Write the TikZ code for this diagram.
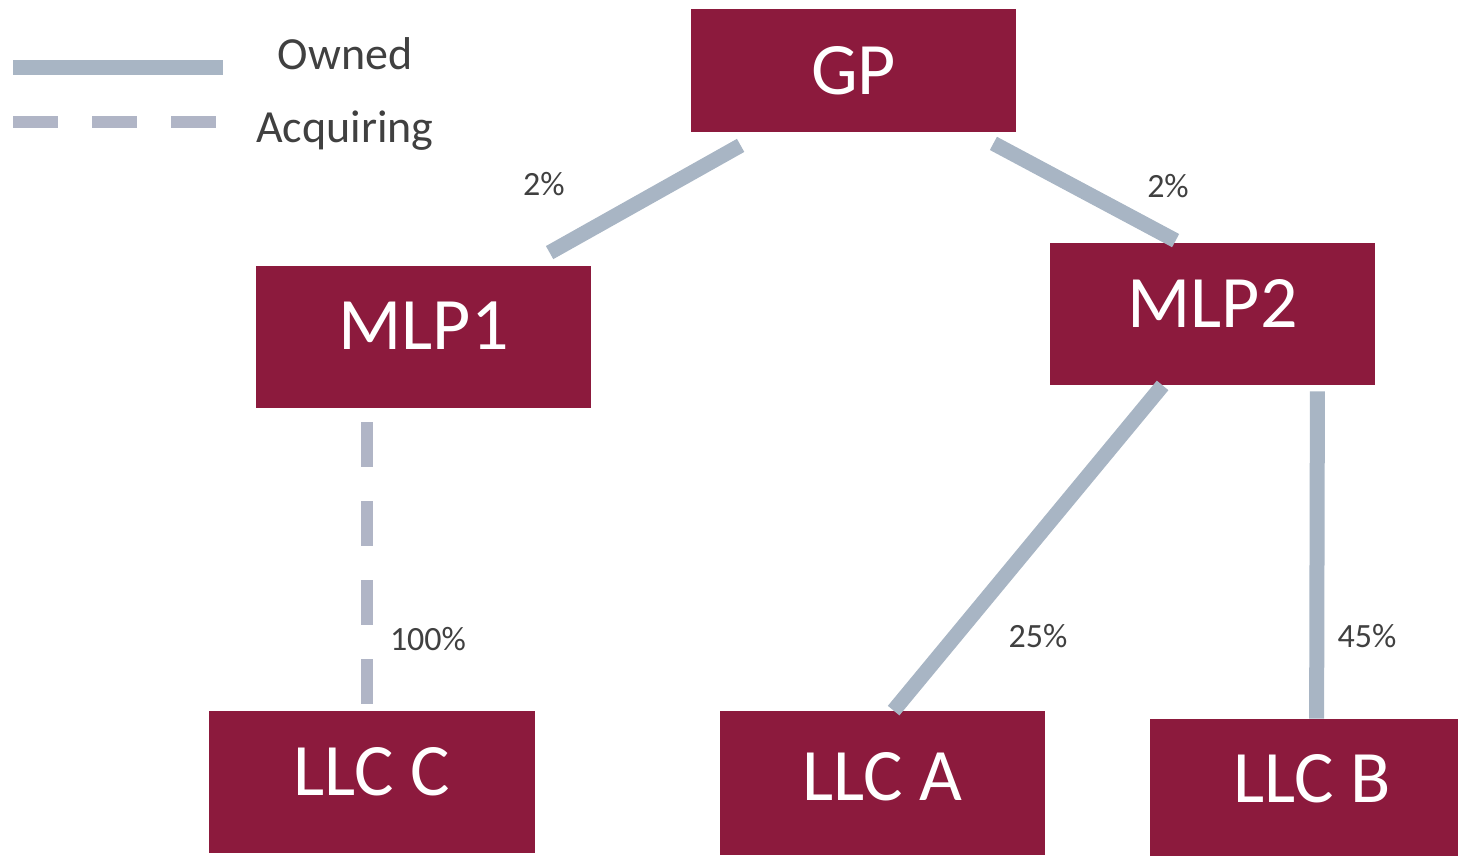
\documentclass[tikz,border=0pt]{standalone}
\usepackage{fontspec}
\setmainfont{Carlito}
\usetikzlibrary{positioning}
\definecolor{boxred}{HTML}{8C1A3D}
\definecolor{ownline}{HTML}{A8B5C4}
\definecolor{acqline}{HTML}{B0B5C6}
\definecolor{labelgray}{HTML}{404040}

\begin{document}
\begin{tikzpicture}[x=.5pt,y=-.5pt,
  entity/.style={fill=boxred,text=white,font=\fontsize{37}{40}\selectfont,inner sep=0pt,
    text depth=11pt,minimum height=71pt},
  owned/.style={draw=ownline,line width=7.5pt},
  acquiring/.style={draw=acqline,line width=6pt,dash pattern=on 22.5pt off 17pt},
  pct/.style={text=labelgray,font=\fontsize{17}{20}\selectfont,anchor=base},
  legend/.style={text=labelgray,font=\fontsize{23}{27}\selectfont,anchor=base}]
  \path[use as bounding box] (0,0) rectangle (1459,856);

  % entities
  \node[entity,minimum width=162.5pt,minimum height=61.5pt,text depth=0pt] (gp) at (853.5,70.5) {GP};
  \node[entity,minimum width=167.5pt] (mlp1) at (423.5,337) {MLP1};
  \node[entity,minimum width=162.5pt] (mlp2) at (1212.5,314) {MLP2};
  \node[entity,minimum width=163pt] (llcc) at (372,782) {LLC C};
  \node[entity,minimum width=162.5pt,minimum height=72pt,text depth=7pt] (llca) at (882.5,783) {LLC A};
  \node[entity,minimum width=154pt,minimum height=68.5pt,text depth=9pt] (llcb) at (1304,787.5) {\hspace{8pt}LLC B};

  % ownership lines
  \draw[owned] ([shift={(50,13)}]gp.south west) -- ([shift={(294,-13)}]mlp1.north west);
  \draw[owned] ([shift={(-23,11)}]gp.south east) -- ([shift={(126,-2)}]mlp2.north west);
  \draw[owned] ([shift={(113,0)}]mlp2.south west) -- ([shift={(174,0)}]llca.north west);
  \draw[owned] ([shift={(-58,6)}]mlp2.south east) -- ([shift={(167,0)}]llcb.north west);
  \draw[acquiring] ([shift={(111,14)}]mlp1.south west) -- ([shift={(158,-6)}]llcc.north west);

  \node[pct] (pgp1) at (544,195) {2\%};
  \node[pct] (pgp2) at (1168,197) {2\%};
  \node[pct] (pllcc) at (428,650) {100\%};
  \node[pct] (pllca) at (1038,647) {25\%};
  \node[pct] (pllcb) at (1367,647) {45\%};

  % legend
  \draw[owned] (13,68) -- (223,68);
  \draw[acquiring] (13,122) -- (217,122);
  \node[legend] (lown) at (345,70) {Owned};
  \node[legend] (lacq) at (345,142) {Acquiring};
\end{tikzpicture}
\end{document}
